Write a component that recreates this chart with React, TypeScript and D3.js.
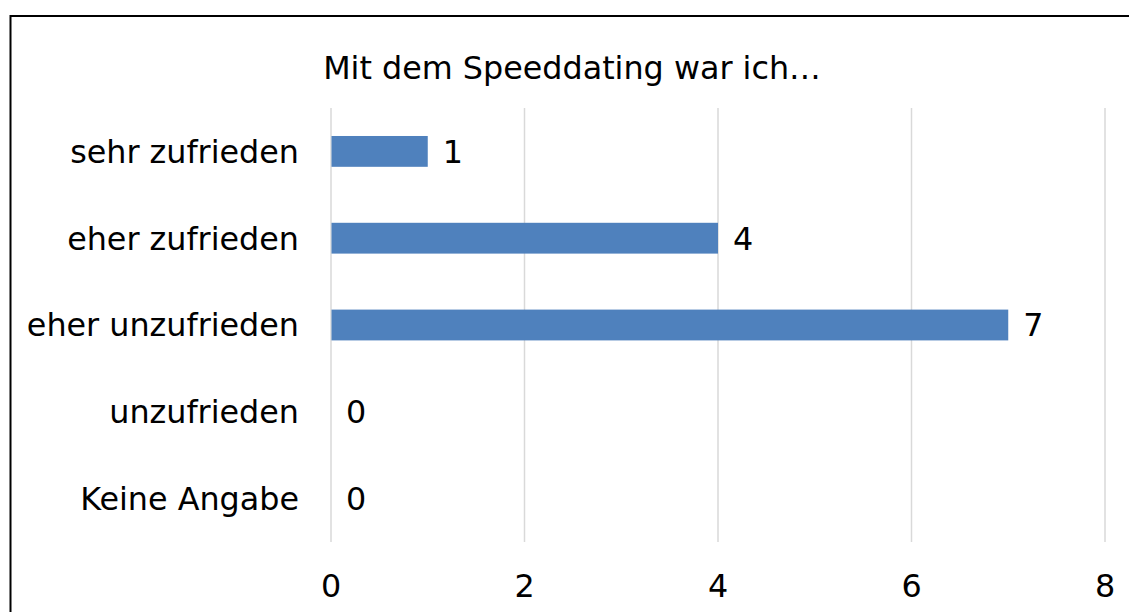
import React, { useEffect, useRef } from 'react';
import * as d3 from 'd3';

const title = 'Mit dem Speeddating war ich…';
const categories = ['sehr zufrieden', 'eher zufrieden', 'eher unzufrieden', 'unzufrieden', 'Keine Angabe'];
const counts = [1, 4, 7, 0, 0];
const xTicks = [0, 2, 4, 6, 8];

const App = () => {
  const ref = useRef<SVGSVGElement>(null);

  useEffect(() => {
    const svgWidth = 1129,
      svgHeight = 612;
    const font = '"DejaVu Sans", Verdana, sans-serif';
    const fontSize = 31.8;

    const svg = d3.select(ref.current);
    svg.selectAll('*').remove();

    svg.append('rect')
      .attr('width', svgWidth)
      .attr('height', svgHeight)
      .attr('fill', '#fff');

    // outer frame (right/bottom edges fall outside the picture)
    svg.append('rect')
      .attr('x', 10.5)
      .attr('y', 16)
      .attr('width', 1200)
      .attr('height', 700)
      .attr('fill', 'none')
      .attr('stroke', '#000')
      .attr('stroke-width', 2);

    const x = d3.scaleLinear().domain([0, 8]).range([331, 1105]);
    const y = d3.scaleBand<string>()
      .domain(categories)
      .range([108, 542])
      .paddingInner(0.645)
      .paddingOuter(0.3225);

    svg.append('text')
      .attr('x', 572)
      .attr('y', 79)
      .attr('text-anchor', 'middle')
      .attr('font-family', font)
      .attr('font-size', fontSize)
      .attr('fill', '#000')
      .text(title);

    // gridlines
    svg.append('g')
      .selectAll('line')
      .data(xTicks)
      .join('line')
      .attr('x1', (d) => x(d))
      .attr('x2', (d) => x(d))
      .attr('y1', 108)
      .attr('y2', 542)
      .attr('stroke', '#d9d9d9')
      .attr('stroke-width', 1.5);

    // x tick labels
    svg.append('g')
      .selectAll('text')
      .data(xTicks)
      .join('text')
      .attr('x', (d) => x(d))
      .attr('y', 597)
      .attr('text-anchor', 'middle')
      .attr('font-family', font)
      .attr('font-size', fontSize)
      .attr('fill', '#000')
      .text((d) => d);

    // category labels
    svg.append('g')
      .selectAll('text')
      .data(categories)
      .join('text')
      .attr('x', 299)
      .attr('y', (d) => y(d)! + y.bandwidth() / 2)
      .attr('dy', '0.36em')
      .attr('text-anchor', 'end')
      .attr('font-family', font)
      .attr('font-size', fontSize)
      .attr('fill', '#000')
      .text((d) => d);

    // bars
    svg.append('g')
      .selectAll('rect')
      .data(counts)
      .join('rect')
      .attr('x', x(0) + 0.5)
      .attr('y', (d, i) => y(categories[i])!)
      .attr('width', (d) => Math.max(0, x(d) - x(0) - 0.5))
      .attr('height', y.bandwidth())
      .attr('fill', '#4f81bd');

    // value labels
    svg.append('g')
      .selectAll('text')
      .data(counts)
      .join('text')
      .attr('x', (d) => x(d) + 15)
      .attr('y', (d, i) => y(categories[i])! + y.bandwidth() / 2)
      .attr('dy', '0.36em')
      .attr('font-family', font)
      .attr('font-size', fontSize)
      .attr('fill', '#000')
      .text((d) => d);
  }, []);

  return (
    <svg
      ref={ref}
      width={1129}
      height={612}
      style={{ position: 'absolute', left: 0, top: 0 }}
    />
  );
};

export default App;
